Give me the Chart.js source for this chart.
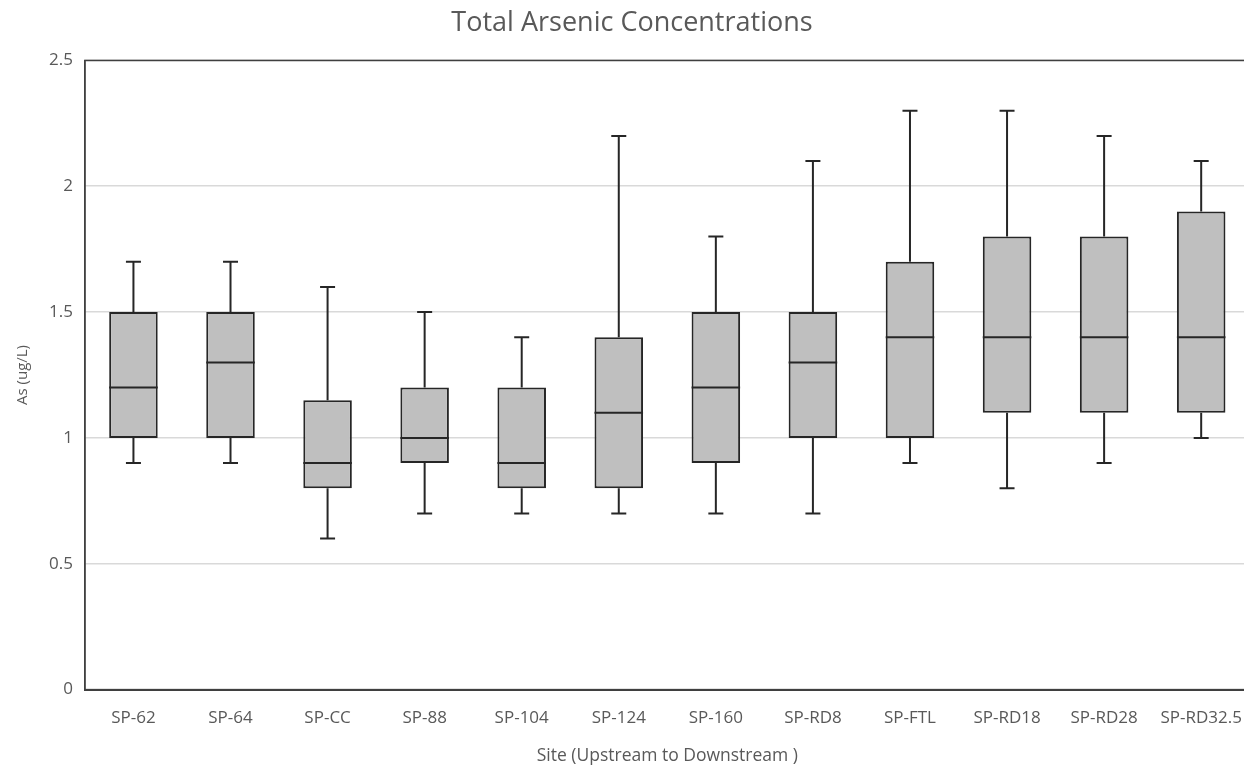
<!DOCTYPE html>
<html>
<head>
<meta charset="utf-8">
<script src="https://cdn.jsdelivr.net/npm/chart.js@4.4.0/dist/chart.umd.min.js"></script>
<style>
  html, body { margin: 0; padding: 0; background: #fff; overflow: hidden; }
  #wrap { width: 1252px; height: 767px; }
</style>
</head>
<body>
<div id="wrap"><canvas id="boxChart" width="1252" height="767"></canvas></div>
<script>
// sites, upstream to downstream
const sites = ["SP-62", "SP-64", "SP-CC", "SP-88", "SP-104", "SP-124", "SP-160", "SP-RD8", "SP-FTL", "SP-RD18", "SP-RD28", "SP-RD32.5"];
// box plot stats (ug/L)
const mins    = [0.9, 0.9, 0.6,  0.7, 0.7, 0.7, 0.7, 0.7, 0.9, 0.8, 0.9, 1.0];
const q1s     = [1.0, 1.0, 0.8,  0.9, 0.8, 0.8, 0.9, 1.0, 1.0, 1.1, 1.1, 1.1];
const medians = [1.2, 1.3, 0.9,  1.0, 0.9, 1.1, 1.2, 1.3, 1.4, 1.4, 1.4, 1.4];
const q3s     = [1.5, 1.5, 1.15, 1.2, 1.2, 1.4, 1.5, 1.5, 1.7, 1.8, 1.8, 1.9];
const maxs    = [1.7, 1.7, 1.6,  1.5, 1.4, 2.2, 1.8, 2.1, 2.3, 2.3, 2.2, 2.1];
const yTicks  = [0, 0.5, 1, 1.5, 2, 2.5];

const textColor = "#595959";
const lineColor = "#262626";

// whiskers, caps and medians drawn from the bar elements + y scale
const boxExtras = {
  id: "boxExtras",
  beforeDatasetsDraw(chart) {
    const { ctx, scales: { y } } = chart;
    const meta = chart.getDatasetMeta(0);
    ctx.save();
    ctx.strokeStyle = lineColor;
    ctx.lineWidth = 2;
    meta.data.forEach((bar, i) => {
      const x = bar.x;
      const cap = 7.5;
      const yMin = y.getPixelForValue(mins[i]);
      const yMax = y.getPixelForValue(maxs[i]);
      const yQ1 = y.getPixelForValue(q1s[i]);
      const yQ3 = y.getPixelForValue(q3s[i]);
      ctx.beginPath();
      ctx.moveTo(x, yQ3); ctx.lineTo(x, yMax);
      ctx.moveTo(x - cap, yMax); ctx.lineTo(x + cap, yMax);
      ctx.moveTo(x, yQ1); ctx.lineTo(x, yMin);
      ctx.moveTo(x - cap, yMin); ctx.lineTo(x + cap, yMin);
      ctx.stroke();
    });
    ctx.restore();
  },
  afterDatasetsDraw(chart) {
    const { ctx, scales: { y }, chartArea } = chart;
    const meta = chart.getDatasetMeta(0);
    ctx.save();
    ctx.strokeStyle = lineColor;
    ctx.lineWidth = 2;
    meta.data.forEach((bar, i) => {
      const half = bar.width / 2;
      const yMed = y.getPixelForValue(medians[i]);
      ctx.beginPath();
      ctx.moveTo(bar.x - half, yMed);
      ctx.lineTo(bar.x + half, yMed);
      ctx.stroke();
    });
    // plot frame
    ctx.strokeStyle = "#404040";
    ctx.lineWidth = 1.5;
    ctx.strokeRect(chartArea.left, chartArea.top, chartArea.right - chartArea.left, chartArea.bottom - chartArea.top);
    ctx.restore();
  }
};

const ctx = document.getElementById("boxChart");
new Chart(ctx, {
  type: "bar",
  data: {
    labels: sites,
    datasets: [
      {
        label: "Total Arsenic",
        data: sites.map((s, i) => [q1s[i], q3s[i]]),
        backgroundColor: "#bfbfbf",
        borderColor: lineColor,
        borderWidth: 2,
        borderSkipped: false,
        categoryPercentage: 1,
        barPercentage: 0.5,
      },
    ],
  },
  options: {
    responsive: false,
    animation: false,
    devicePixelRatio: 1,
    layout: { padding: { left: 14, right: 2, top: 0, bottom: 0 } },
    plugins: {
      legend: { display: false },
      tooltip: { enabled: false },
      title: {
        display: true,
        text: "Total Arsenic Concentrations",
        color: textColor,
        font: { family: "Open Sans", size: 27, weight: "normal" },
        padding: { top: 7, bottom: 21 },
      },
    },
    scales: {
      x: {
        grid: { display: false },
        border: { color: "#404040", width: 2 },
        ticks: {
          color: textColor,
          font: { family: "Open Sans", size: 17 },
          padding: 10,
          maxRotation: 0,
          autoSkip: false,
        },
        title: {
          display: true,
          text: "Site (Upstream to Downstream )",
          color: textColor,
          font: { family: "Open Sans", size: 17.5 },
          padding: { top: 8, bottom: 0 },
        },
      },
      y: {
        min: 0,
        max: 2.5,
        afterBuildTicks(axis) {
          axis.ticks = yTicks.map((v) => ({ value: v }));
        },
        grid: { color: "#d9d9d9", lineWidth: 1.5, drawTicks: false },
        border: { color: "#404040", width: 1.5 },
        ticks: {
          color: textColor,
          font: { family: "Open Sans", size: 17 },
          padding: 12,
          callback: (v) => String(v),
        },
        title: {
          display: true,
          text: "As (ug/L)",
          color: textColor,
          font: { family: "Open Sans", size: 15 },
          padding: { top: 0, bottom: 5 },
        },
      },
    },
  },
  plugins: [boxExtras],
});
</script>
</body>
</html>
